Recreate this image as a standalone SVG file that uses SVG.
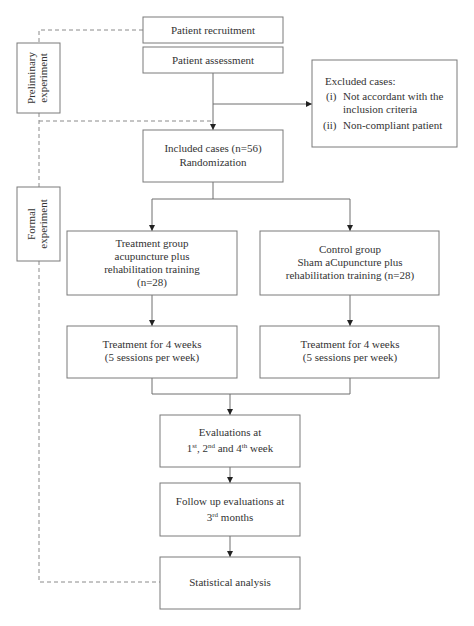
<svg xmlns="http://www.w3.org/2000/svg" width="474" height="626" viewBox="0 0 474 626">
<defs>
<style>
.box{fill:#fff;stroke:#7a7a7a;stroke-width:1}
.t{font-family:"Liberation Serif","Times New Roman",serif;font-size:11px;fill:#333;text-anchor:middle}
.tl{font-family:"Liberation Serif","Times New Roman",serif;font-size:11px;fill:#333}
.sup{font-size:7px}
.ln{fill:none;stroke:#6e6e6e;stroke-width:1}
.dash{fill:none;stroke:#8a8a8a;stroke-width:1;stroke-dasharray:4,3}
</style>
<marker id="ah" viewBox="0 0 10 10" refX="10" refY="5" markerWidth="6" markerHeight="6" orient="auto" markerUnits="userSpaceOnUse">
<path d="M0,0 L10,5 L0,10 z" fill="#222"/>
</marker>
</defs>
<rect width="474" height="626" fill="#fff"/>
<g id="connectors">
<path class="dash" d="M143,30 H39 V43"/>
<path class="dash" d="M39,113 V187"/>
<path class="dash" d="M39,121 H213"/>
<path class="dash" d="M39,261 V582 H160"/>
<path class="ln" d="M213,73 V130" marker-end="url(#ah)"/>
<path class="ln" d="M213,104 H312" marker-end="url(#ah)"/>
<path class="ln" d="M213,182 V199 H152 V231" marker-end="url(#ah)"/>
<path class="ln" d="M213,199 H350 V231" marker-end="url(#ah)"/>
<path class="ln" d="M152,295 V326" marker-end="url(#ah)"/>
<path class="ln" d="M350,295 V326" marker-end="url(#ah)"/>
<path class="ln" d="M152,378 V394 H350 V378"/>
<path class="ln" d="M230,394 V415" marker-end="url(#ah)"/>
<path class="ln" d="M230,467 V483" marker-end="url(#ah)"/>
<path class="ln" d="M230,536 V557" marker-end="url(#ah)"/>
</g>
<g id="recruitment">
<rect class="box" x="143" y="17" width="140" height="26"/>
<text class="t" x="213" y="33.5">Patient recruitment</text>
</g>
<g id="assessment">
<rect class="box" x="143" y="47" width="140" height="26"/>
<text class="t" x="213" y="63.5">Patient assessment</text>
</g>
<g id="preliminary">
<rect class="box" x="17" y="43" width="43" height="70"/>
<text class="t" transform="translate(35,78) rotate(-90)">Preliminary</text>
<text class="t" transform="translate(47,78) rotate(-90)">experiment</text>
</g>
<g id="excluded">
<rect class="box" x="312" y="60" width="145" height="87"/>
<text class="tl" x="325" y="85">Excluded cases:</text>
<text class="tl" x="326" y="100">(i)</text>
<text class="tl" x="343" y="100">Not accordant with the</text>
<text class="tl" x="343" y="113">inclusion criteria</text>
<text class="tl" x="323" y="129">(ii)</text>
<text class="tl" x="343" y="129">Non-compliant patient</text>
</g>
<g id="included">
<rect class="box" x="143" y="130" width="140" height="52"/>
<text class="t" x="213" y="152">Included cases (n=56)</text>
<text class="t" x="213" y="166">Randomization</text>
</g>
<g id="formal">
<rect class="box" x="17" y="187" width="43" height="74"/>
<text class="t" transform="translate(35,224) rotate(-90)">Formal</text>
<text class="t" transform="translate(47,224) rotate(-90)">experiment</text>
</g>
<g id="treatment-group">
<rect class="box" x="67" y="231" width="170" height="64"/>
<text class="t" x="152" y="247">Treatment group</text>
<text class="t" x="152" y="260">acupuncture plus</text>
<text class="t" x="152" y="273">rehabilitation training</text>
<text class="t" x="152" y="286">(n=28)</text>
</g>
<g id="control-group">
<rect class="box" x="260" y="231" width="179" height="64"/>
<text class="t" x="350" y="253">Control group</text>
<text class="t" x="350" y="266">Sham aCupuncture plus</text>
<text class="t" x="350" y="279">rehabilitation training (n=28)</text>
</g>
<g id="treatment-weeks-left">
<rect class="box" x="67" y="326" width="170" height="52"/>
<text class="t" x="152" y="348">Treatment for 4 weeks</text>
<text class="t" x="152" y="361">(5 sessions per week)</text>
</g>
<g id="treatment-weeks-right">
<rect class="box" x="260" y="326" width="179" height="52"/>
<text class="t" x="350" y="348">Treatment for 4 weeks</text>
<text class="t" x="350" y="361">(5 sessions per week)</text>
</g>
<g id="evaluations">
<rect class="box" x="160" y="415" width="140" height="52"/>
<text class="t" x="230" y="436">Evaluations at</text>
<text class="t" x="230" y="452">1<tspan class="sup" dy="-4">st</tspan><tspan dy="4">, 2</tspan><tspan class="sup" dy="-4">nd</tspan><tspan dy="4"> and 4</tspan><tspan class="sup" dy="-4">th</tspan><tspan dy="4"> week</tspan></text>
</g>
<g id="follow-up">
<rect class="box" x="160" y="483" width="140" height="53"/>
<text class="t" x="230" y="505">Follow up evaluations at</text>
<text class="t" x="230" y="521">3<tspan class="sup" dy="-4">rd</tspan><tspan dy="4"> months</tspan></text>
</g>
<g id="statistical">
<rect class="box" x="160" y="557" width="140" height="52"/>
<text class="t" x="230" y="586">Statistical analysis</text>
</g>
</svg>
